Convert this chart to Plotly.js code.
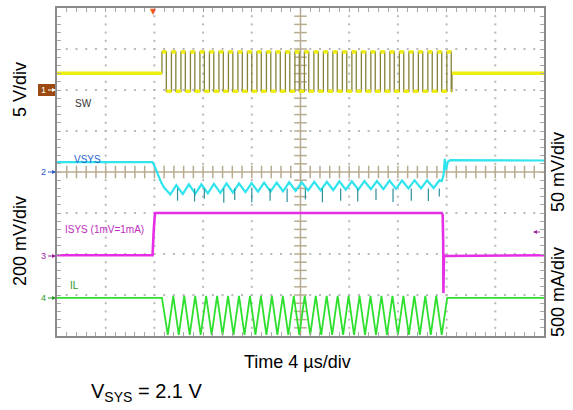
<!DOCTYPE html>
<html><head><meta charset="utf-8">
<script src="https://cdn.plot.ly/plotly-3.0.1.min.js"></script>
<style>html,body{margin:0;padding:0;background:#fff}#c{width:573px;height:410px}</style>
</head><body><div id="c"></div>
<script>
// ---- data (time in µs, amplitude in screen divisions, 0 = bottom edge) ----
const swRise = [8.62, 9.40, 10.18, 10.96, 11.74, 12.52, 13.30, 14.08, 14.86, 15.64, 16.42, 17.20, 17.98, 18.76, 19.54, 20.32, 21.10, 21.88, 22.66, 23.44, 24.22, 25.00, 25.78, 26.56, 27.34, 28.12, 28.90, 29.68, 30.46, 31.24, 32.02];
const swHighWidth = 0.36;
const swEnd = 32.44;
const swIdle = 6.41, swHigh = 6.93, swLow = 5.97;

const vsysT = [0, 7.85, 8.05, 8.30, 8.55, 8.80, 9.10, 9.30, 9.80, 10.33, 10.83, 11.36, 11.86, 12.39, 12.89, 13.42, 13.92, 14.45, 14.95, 15.48, 15.98, 16.51, 17.01, 17.54, 18.04, 18.57, 19.07, 19.60, 20.10, 20.63, 21.13, 21.66, 22.16, 22.69, 23.19, 23.72, 24.22, 24.75, 25.25, 25.78, 26.28, 26.81, 27.31, 27.84, 28.34, 28.87, 29.37, 29.90, 30.40, 30.93, 31.43, 31.60, 31.75, 31.85, 31.95, 32.10, 32.30, 40];
const vsysV = [4.24, 4.24, 4.12, 3.92, 3.75, 3.62, 3.52, 3.45, 3.68, 3.46, 3.70, 3.47, 3.70, 3.48, 3.71, 3.49, 3.72, 3.50, 3.72, 3.51, 3.73, 3.52, 3.74, 3.52, 3.74, 3.53, 3.75, 3.54, 3.75, 3.55, 3.76, 3.55, 3.76, 3.56, 3.77, 3.57, 3.77, 3.57, 3.78, 3.58, 3.78, 3.58, 3.79, 3.59, 3.79, 3.60, 3.80, 3.60, 3.80, 3.61, 3.80, 3.78, 3.92, 4.32, 4.05, 4.25, 4.29, 4.28];
const vsysSpikeT = [9.9, 11.3, 12.1, 13.7, 14.6, 16.0, 17.5, 18.9, 20.4, 21.8, 23.3, 24.7, 26.2, 27.6, 29.1, 30.5, 31.4];
const vsysSpikeV = [3.30, 3.28, 3.35, 3.25, 3.32, 3.26, 3.30, 3.27, 3.33, 3.26, 3.30, 3.28, 3.32, 3.27, 3.30, 3.29, 3.40];

const isysT = [0, 7.85, 7.95, 8.05, 31.60, 31.68, 31.72, 31.74, 31.78, 31.90, 40];
const isysV = [1.97, 1.97, 2.60, 3.00, 3.00, 2.95, 2.30, 1.05, 1.97, 1.95, 1.97];

const ilValleyT = [9.10, 10.00, 10.90, 11.80, 12.70, 13.60, 14.50, 15.40, 16.30, 17.20, 18.10, 19.00, 19.90, 20.80, 21.70, 22.60, 23.50, 24.40, 25.30, 26.20, 27.10, 28.00, 28.90, 29.80, 30.70, 31.60];
const ilPeakT = [9.55, 10.45, 11.35, 12.25, 13.15, 14.05, 14.95, 15.85, 16.75, 17.65, 18.55, 19.45, 20.35, 21.25, 22.15, 23.05, 23.95, 24.85, 25.75, 26.65, 27.55, 28.45, 29.35, 30.25, 31.15];
const ilIdle = 0.93, ilPeak = 0.98, ilValley = 0.03;
const ilStart = 8.62, ilEnd = 32.05;

// ---- geometry helpers for paper-positioned text ----
const L = 57, R = 544, T = 8, B = 336;
const ax = p => (p - L) / (R - L);
const ay = p => (B - p) / (B - T);

// ---- build traces ----
const traces = [];
// grid dots
const gx = [], gy = [];
for (let i = 1; i < 10; i++) { if (i === 5) continue; for (let j = 1; j < 40; j++) { gx.push(i * 4); gy.push(j * 0.2); } }
for (let j = 1; j < 8; j++) { if (j === 4) continue; for (let i = 1; i < 50; i++) { gx.push(i * 0.8); gy.push(j); } }
traces.push({x: gx, y: gy, mode: 'markers', type: 'scatter', hoverinfo: 'skip',
  marker: {size: 2, symbol: 'square', color: '#b8b8b8'}});
// centre cross
traces.push({x: [20, 20, null, 0, 40], y: [0, 8, null, 4, 4], mode: 'lines', hoverinfo: 'skip',
  line: {color: '#b8ab90', width: 1.5}});
const cx = [], cy = [];
for (let j = 1; j < 40; j++) { cx.push(20); cy.push(j * 0.2); }
const hx = [], hy = [];
for (let i = 1; i < 50; i++) { hx.push(i * 0.8); hy.push(4); }
traces.push({x: cx, y: cy, mode: 'markers', hoverinfo: 'skip',
  marker: {symbol: 'line-ew', size: 9, line: {color: '#b8ab90', width: 1.5}}});
traces.push({x: hx, y: hy, mode: 'markers', hoverinfo: 'skip',
  marker: {symbol: 'line-ns', size: 9, line: {color: '#b8ab90', width: 1.5}}});

// SW
const swX = [0, swRise[0]], swY = [swIdle, swIdle];
const capX = [0, swRise[0], null], capY = [swIdle, swIdle, null];
for (let i = 0; i < swRise.length; i++) {
  const r = swRise[i], f = r + swHighWidth, nx = i + 1 < swRise.length ? swRise[i + 1] : swEnd;
  swX.push(r, f, f, nx); swY.push(swHigh, swHigh, swLow, swLow);
  capX.push(r, f, null, f, nx, null); capY.push(swHigh, swHigh, null, swLow, swLow, null);
}
swX.push(swEnd, 40); swY.push(swIdle, swIdle);
capX.push(swEnd, 40); capY.push(swIdle, swIdle);
traces.push({x: swX, y: swY, mode: 'lines', hoverinfo: 'skip', line: {color: '#84823a', width: 1.3}});
traces.push({x: capX, y: capY, mode: 'lines', hoverinfo: 'skip', line: {color: '#eeee10', width: 3.5}});

// VSYS
traces.push({x: vsysT, y: vsysV, mode: 'lines', hoverinfo: 'skip', line: {color: '#30e4ee', width: 2.2}});
const spX = [], spY = [];
vsysSpikeT.forEach((t, i) => { spX.push(t, t, null); spY.push(3.6, vsysSpikeV[i], null); });
traces.push({x: spX, y: spY, mode: 'lines', hoverinfo: 'skip', line: {color: '#2f8f9c', width: 1.2}});

// ISYS
traces.push({x: isysT, y: isysV, mode: 'lines', hoverinfo: 'skip', line: {color: '#e62ee6', width: 2.6}});

// IL
const ilPts = [];
ilValleyT.forEach(t => ilPts.push([t, ilValley]));
ilPeakT.forEach(t => ilPts.push([t, ilPeak]));
ilPts.sort((a, b) => a[0] - b[0]);
const ilX = [0, ilStart], ilY = [ilIdle, ilIdle];
ilPts.forEach(p => { ilX.push(p[0]); ilY.push(p[1]); });
ilX.push(ilEnd, 40); ilY.push(ilIdle, ilIdle);
traces.push({x: ilX, y: ilY, mode: 'lines', hoverinfo: 'skip', line: {color: '#2ee02e', width: 1.8}});

const F = 'Liberation Sans, Arial, sans-serif';
const ann = (text, x, y, opt) => Object.assign({text, x: ax(x), y: ay(y), xref: 'paper', yref: 'paper',
  showarrow: false, xanchor: 'center', yanchor: 'middle', font: {family: F, size: 18, color: '#000'}}, opt || {});
// channel marker: number with a small arrow pointing right to the plot edge
const chMark = (num, py, color, tx) => ({text: num, x: ax(56), y: ay(py), xref: 'paper', yref: 'paper',
  showarrow: true, ax: -13, ay: 0, arrowhead: 2, arrowsize: 0.8, arrowwidth: 1, arrowcolor: color,
  standoff: 0, startstandoff: 1, font: {family: F, size: 9, color: tx || color}});

const annotations = [
  ann('5 V/div', 20, 90, {textangle: -90}),
  ann('200 mV/div', 20, 241, {textangle: -90}),
  ann('50 mV/div', 558, 172, {textangle: -90}),
  ann('500 mA/div', 558, 292, {textangle: -90}),
  ann('Time 4 µs/div', 297, 362),
  ann('V<sub>SYS</sub> = 2.1 V', 89, 392, {xanchor: 'left', font: {family: F, size: 20, color: '#000'}}),
  ann('SW', 73, 103, {xanchor: 'left', font: {family: F, size: 10, color: '#333'}}),
  ann('VSYS', 72, 159, {xanchor: 'left', font: {family: F, size: 10, color: '#2a64d0'}}),
  ann('ISYS (1mV=1mA)', 63, 230, {xanchor: 'left', font: {family: F, size: 10, color: '#c02cc0'}}),
  ann('IL', 68, 285, {xanchor: 'left', font: {family: F, size: 10, color: '#2a9a2a'}}),
  chMark('1', 90, '#ffffff', '#ffffff'),
  chMark('2', 172, '#2a5cc8'),
  chMark('3', 256, '#a020a0'),
  chMark('4', 298, '#2a9a2a'),
  {text: ' ', x: ax(533), y: ay(232), xref: 'paper', yref: 'paper', showarrow: true, ax: 9, ay: 0,
   arrowhead: 2, arrowsize: 0.8, arrowwidth: 1, arrowcolor: '#a02aa0', standoff: 0, startstandoff: 0,
   font: {family: F, size: 2, color: '#a02aa0'}},
  ann('▼', 153, 11, {font: {family: 'DejaVu Sans, sans-serif', size: 8, color: '#f05a20'}})
];

const shapes = [
  {type: 'rect', xref: 'paper', yref: 'paper', x0: ax(38), x1: ax(56), y0: ay(96), y1: ay(84),
   fillcolor: '#9c4a12', line: {width: 0}, layer: 'below'}
];

const axisCommon = {showgrid: false, zeroline: false, showticklabels: false, ticks: 'inside', ticklen: 4,
  tickcolor: '#a8a8a8', tickwidth: 1, showline: true, linecolor: '#8a8a8a', linewidth: 2, mirror: 'ticks', fixedrange: true};

const layout = {
  width: 573, height: 410, margin: {l: L, r: 573 - R, t: T, b: 410 - B},
  paper_bgcolor: '#fff', plot_bgcolor: '#fff', showlegend: false,
  xaxis: Object.assign({range: [0, 40], tick0: 0, dtick: 0.8}, axisCommon),
  yaxis: Object.assign({range: [0, 8], tick0: 0, dtick: 0.2}, axisCommon),
  annotations, shapes
};
Plotly.newPlot('c', traces, layout, {staticPlot: true, displayModeBar: false});
</script></body></html>
